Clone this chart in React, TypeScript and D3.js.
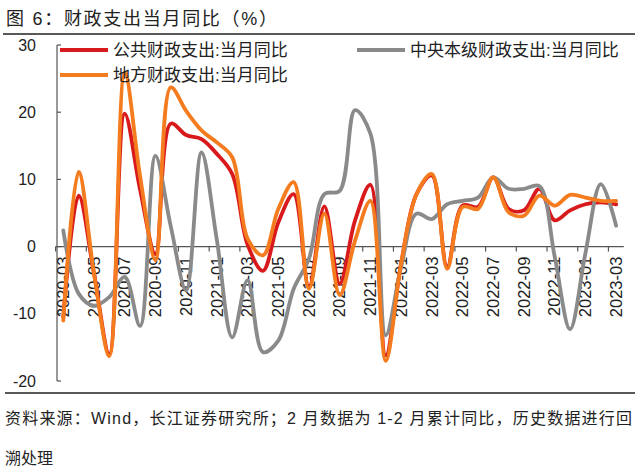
import React, { useEffect, useRef } from 'react';
import * as d3 from 'd3';

// months 2020-03 .. 2023-03
const months: string[] = [
  '2020-03', '2020-04', '2020-05', '2020-06', '2020-07', '2020-08', '2020-09', '2020-10', '2020-11', '2020-12',
  '2021-01', '2021-02', '2021-03', '2021-04', '2021-05', '2021-06', '2021-07', '2021-08', '2021-09', '2021-10',
  '2021-11', '2021-12', '2022-01', '2022-02', '2022-03', '2022-04', '2022-05', '2022-06', '2022-07', '2022-08',
  '2022-09', '2022-10', '2022-11', '2022-12', '2023-01', '2023-02', '2023-03'
];

const publicSpend: number[] = [
  -10.5, 7.6, -4, -16, 19.8, 8.5, -1.1, 18.3, 16.6, 16.0,
  13.8, 10.8, 0.3, -3.6, 3.6, 7.8, -6, 6.0, -5.5, 3.9,
  9.2, -16.2, -2.5, 7.8, 10.6, -3, 6.1, 5.9, 10.3, 5.6,
  5.4, 8.6, 3.9, 5.4, 6.3, 6.6, 6.3
];

const centralSpend: number[] = [
  2.4, -7, -8.8, -7.5, -4.5, -11.8, 13.5, 3, -6.5, 14.0,
  1, -13.5, -5, -15.7, -14, -6.3, -1.8, 7.8, 8.3, 20.3,
  16.8, -13.2, -3, 4.9, 4.1, 6.3, 6.8, 7.3, 10.3, 8.6,
  8.6, 9.0, -1.5, -12.3, -1, 9.3, 3.1
];

const localSpend: number[] = [
  -11, 11.1, -4, -16.3, 25.9, 10.5, -2, 23.7, 20.2, 17.3,
  15.5, 13.3, 1.2, -1.3, 5.6, 9.6, -6.3, 4.9, -7.2, 0.9,
  6.8, -17, -2.5, 7.8, 10.8, -3.3, 5.9, 5.6, 10.3, 5.1,
  4.6, 7.6, 6.1, 7.7, 7.3, 6.8, 6.8
];

const yTicks: number[] = [-20, -10, 0, 10, 20, 30];

const series = [
  { name: '公共财政支出:当月同比', values: publicSpend, color: '#D91A1C' },
  { name: '中央本级财政支出:当月同比', values: centralSpend, color: '#8A8A8A' },
  { name: '地方财政支出:当月同比', values: localSpend, color: '#F47C1E' }
];

const W = 640;
const H = 471;
const FONT = '"Liberation Sans", Arial, "Noto Sans CJK SC", sans-serif';

const App: React.FC = () => {
  const svgRef = useRef<SVGSVGElement>(null);

  useEffect(() => {
    if (!svgRef.current) return;
    const svg = d3.select(svgRef.current);
    svg.selectAll('*').remove();

    const x = d3.scaleBand<string>().domain(months).range([55.6, 623.8]).paddingInner(0).paddingOuter(0);
    const y = d3.scaleLinear().domain([-20, 30]).range([381, 45]);
    const cx = (m: string) => (x(m) as number) + x.bandwidth() / 2;

    // title
    svg.append('text')
      .attr('x', 6)
      .attr('y', 25)
      .attr('font-family', FONT)
      .attr('font-size', 18)
      .attr('fill', '#222')
      .attr('textLength', 271)
      .attr('lengthAdjust', 'spacing')
      .text('图 6：财政支出当月同比（%）');

    svg.append('line')
      .attr('x1', 3).attr('x2', 635).attr('y1', 34).attr('y2', 34)
      .attr('stroke', '#222').attr('stroke-width', 1.5);

    // y axis
    const yAxis = svg.append('g');
    yAxis.append('line')
      .attr('x1', 57).attr('x2', 57).attr('y1', y(30)).attr('y2', y(-20))
      .attr('stroke', '#555').attr('stroke-width', 1.2);
    yAxis.selectAll('.ytick')
      .data(yTicks)
      .enter()
      .append('line')
      .attr('x1', 57).attr('x2', 61)
      .attr('y1', d => y(d)).attr('y2', d => y(d))
      .attr('stroke', '#555').attr('stroke-width', 1.2);
    yAxis.selectAll('.ylab')
      .data(yTicks)
      .enter()
      .append('text')
      .attr('x', 36)
      .attr('y', d => y(d))
      .attr('dy', '0.35em')
      .attr('text-anchor', 'end')
      .attr('font-family', FONT)
      .attr('font-size', 16)
      .attr('fill', '#222')
      .text(d => String(d));

    // zero axis with category ticks
    const xAxis = svg.append('g');
    xAxis.append('line')
      .attr('x1', 55.6).attr('x2', 623.8).attr('y1', y(0)).attr('y2', y(0))
      .attr('stroke', '#555').attr('stroke-width', 1.2);
    const labelled = months.filter((_, i) => i % 2 === 0);
    xAxis.selectAll('.xtick')
      .data(labelled)
      .enter()
      .append('line')
      .attr('x1', d => x(d) as number).attr('x2', d => x(d) as number)
      .attr('y1', y(0)).attr('y2', y(0) + 5)
      .attr('stroke', '#555').attr('stroke-width', 1.2);
    xAxis.selectAll('.xlab')
      .data(labelled)
      .enter()
      .append('text')
      .attr('transform', d => `translate(${cx(d)},${y(0) + 10}) rotate(-90)`)
      .attr('dy', '0.35em')
      .attr('text-anchor', 'end')
      .attr('font-family', FONT)
      .attr('font-size', 16.5)
      .attr('fill', '#222')
      .text(d => d);

    // lines
    const line = d3.line<number>()
      .x((_, i) => cx(months[i]))
      .y(d => y(d))
      .curve(d3.curveCatmullRom.alpha(0.5));

    svg.append('g')
      .selectAll('path')
      .data(series)
      .enter()
      .append('path')
      .attr('d', d => line(d.values))
      .attr('fill', 'none')
      .attr('stroke', d => d.color)
      .attr('stroke-width', 3.8)
      .attr('stroke-linejoin', 'round')
      .attr('stroke-linecap', 'round');

    // legend
    const legendPos = [
      { lx: 60, ly: 50 },
      { lx: 357, ly: 50 },
      { lx: 60, ly: 75 }
    ];
    const legend = svg.append('g');
    series.forEach((s, i) => {
      const p = legendPos[i];
      legend.append('line')
        .attr('x1', p.lx).attr('x2', p.lx + 48).attr('y1', p.ly).attr('y2', p.ly)
        .attr('stroke', s.color).attr('stroke-width', 3.8);
      legend.append('text')
        .attr('x', p.lx + 53)
        .attr('y', p.ly)
        .attr('dy', '0.35em')
        .attr('font-family', FONT)
        .attr('font-size', 17)
        .attr('fill', '#222')
        .text(s.name);
    });

    // footer
    svg.append('line')
      .attr('x1', 5).attr('x2', 635).attr('y1', 393).attr('y2', 393)
      .attr('stroke', '#222').attr('stroke-width', 1.5);
    svg.append('text')
      .attr('x', 5)
      .attr('y', 424)
      .attr('font-family', FONT)
      .attr('font-size', 16)
      .attr('fill', '#222')
      .attr('textLength', 627)
      .attr('lengthAdjust', 'spacing')
      .text('资料来源：Wind，长江证券研究所；2 月数据为 1-2 月累计同比，历史数据进行回');
    svg.append('text')
      .attr('x', 5)
      .attr('y', 464)
      .attr('font-family', FONT)
      .attr('font-size', 16)
      .attr('fill', '#222')
      .text('溯处理');
  }, []);

  return (
    <div style={{ position: 'fixed', left: 0, top: 0, width: W, height: H, background: '#fff' }}>
      <svg ref={svgRef} width={W} height={H} viewBox={`0 0 ${W} ${H}`} style={{ display: 'block' }} />
    </div>
  );
};

export default App;
